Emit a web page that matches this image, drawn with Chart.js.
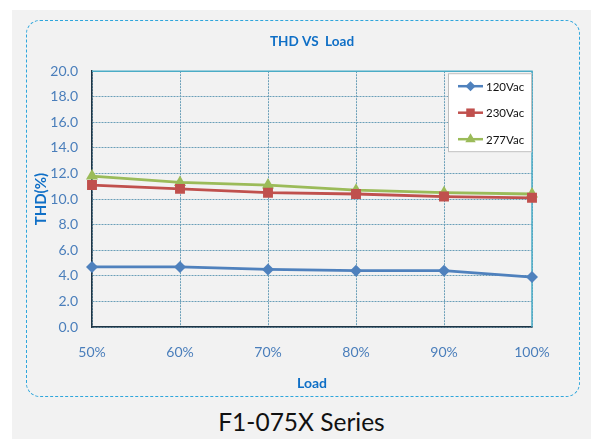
<!DOCTYPE html>
<html>
<head>
<meta charset="utf-8">
<script src="https://cdn.jsdelivr.net/npm/chart.js@4/dist/chart.umd.min.js"></script>
<style>
  html, body { margin: 0; padding: 0; background: #fff; }
  #page { position: relative; width: 591px; height: 439px; overflow: hidden; }
  #panel { position: absolute; left: 12px; top: 10px; width: 579px; height: 429px; background: #f2f2f2; }
  #frame { position: absolute; left: 26px; top: 20px; width: 552px; height: 375px;
           border: 1px dashed #2fa6dc; border-radius: 14px; }
  #series { position: absolute; left: 12px; width: 579px; top: 407px; text-align: center;
            font-family: Lato, 'Noto Sans', sans-serif; font-size: 24.5px; color: #111; }
  #wrap { position: absolute; left: 0; top: 0; width: 591px; height: 439px; }
</style>
</head>
<body>
<div id="page">
  <div id="panel"></div>
  <div id="frame"></div>
  <div id="series">F1-075X Series</div>
  <div id="wrap"><canvas id="thdChart"></canvas></div>
</div>
<script>
(function() {
    'use strict';

    var loads = ['50%', '60%', '70%', '80%', '90%', '100%'];
    var thd120 = [4.7, 4.7, 4.5, 4.4, 4.4, 3.9];
    var thd230 = [11.1, 10.8, 10.5, 10.4, 10.2, 10.1];
    var thd277 = [11.8, 11.3, 11.1, 10.7, 10.5, 10.4];
    var yTicks = [0, 2, 4, 6, 8, 10, 12, 14, 16, 18, 20];

    var tickBlue = '#4a7ebb';
    var titleBlue = '#0f6fc6';
    var font = "Lato, 'Noto Sans', sans-serif";

    // top/right plot border in light blue (Excel style)
    var plotFrame = {
        id: 'plotFrame',
        beforeDatasetsDraw: function(chart) {
            var a = chart.chartArea, ctx = chart.ctx;
            ctx.save();
            ctx.strokeStyle = '#4bacc6';
            ctx.lineWidth = 1.5;
            ctx.beginPath();
            ctx.moveTo(a.left, a.top);
            ctx.lineTo(a.right, a.top);
            ctx.lineTo(a.right, a.bottom);
            ctx.stroke();
            ctx.restore();
        }
    };

    // legend box inside the plot, top right
    var boxLegend = {
        id: 'boxLegend',
        afterDraw: function(chart) {
            var a = chart.chartArea, ctx = chart.ctx;
            var w = 84, h = 79;
            var x0 = a.right - w, y0 = a.top + 2;
            ctx.save();
            ctx.fillStyle = '#ffffff';
            ctx.fillRect(x0, y0, w, h);
            ctx.strokeStyle = '#bfbfbf';
            ctx.lineWidth = 1;
            ctx.strokeRect(x0 + 0.5, y0 + 0.5, w - 1, h - 1);
            chart.data.datasets.forEach(function(ds, i) {
                var cy = y0 + 13 + i * 26.5;
                ctx.strokeStyle = ds.borderColor;
                ctx.lineWidth = 2.5;
                ctx.beginPath();
                ctx.moveTo(x0 + 10, cy);
                ctx.lineTo(x0 + 35, cy);
                ctx.stroke();
                ctx.fillStyle = ds.borderColor;
                Chart.helpers.drawPoint(ctx, {
                    pointStyle: ds.pointStyle, radius: ds.pointRadius - 1, borderWidth: 0
                }, x0 + 22.5, cy);
                ctx.fillStyle = '#111';
                ctx.font = '11.5px ' + font;
                ctx.textBaseline = 'middle';
                ctx.fillText(ds.label, x0 + 38, cy + 1);
            });
            ctx.restore();
        }
    };

    function series(label, data, color, style, radius) {
        return {
            label: label,
            data: data,
            borderColor: color,
            backgroundColor: color,
            borderWidth: 2.8,
            pointStyle: style,
            pointRadius: radius,
            pointBorderWidth: 0,
            pointBackgroundColor: color,
            tension: 0
        };
    }

    new Chart(document.getElementById('thdChart').getContext('2d'), {
        type: 'line',
        data: {
            labels: loads,
            datasets: [
                series('120Vac', thd120, '#4f81bd', 'rectRot', 6),
                series('230Vac', thd230, '#c0504d', 'rect', 7),
                series('277Vac', thd277, '#9bbb59', 'triangle', 7)
            ]
        },
        options: {
            responsive: true,
            maintainAspectRatio: false,
            animation: false,
            layout: { padding: { left: 27, right: 59, top: 20, bottom: 42 } },
            plugins: {
                legend: { display: false },
                tooltip: { enabled: false },
                title: {
                    display: true,
                    text: 'THD VS  Load',
                    fullSize: false,
                    color: titleBlue,
                    font: { family: font, size: 13.5, weight: 'bold' },
                    padding: { top: 14, bottom: 21 }
                }
            },
            scales: {
                x: {
                    offset: false,
                    grid: { color: '#6a9fb8', drawTicks: false, lineWidth: 1 },
                    border: { color: '#1f3545', width: 1.5, dash: [2, 1] },
                    ticks: { color: tickBlue, font: { family: font, size: 14 }, padding: 17, maxRotation: 0 },
                    title: {
                        display: true, text: 'Load', color: titleBlue,
                        font: { family: font, size: 14, weight: 'bold' },
                        padding: { top: 0, bottom: 5 }
                    },
                    afterFit: function(s) { s.height = 70; }
                },
                y: {
                    min: 0,
                    max: 20,
                    afterBuildTicks: function(s) { s.ticks = yTicks.map(function(v) { return { value: v }; }); },
                    grid: { color: '#6a9fb8', drawTicks: false, lineWidth: 1 },
                    border: { color: '#1f3545', width: 1.5, dash: [2, 1] },
                    ticks: {
                        color: tickBlue, font: { family: font, size: 14 }, padding: 14,
                        callback: function(v) { return Number(v).toFixed(1); }
                    },
                    title: {
                        display: true, text: 'THD(%)', color: titleBlue,
                        font: { family: font, size: 15, weight: 'bold' },
                        padding: { top: 5, bottom: 0 }
                    },
                    afterFit: function(s) { s.width = 65; }
                }
            }
        },
        plugins: [plotFrame, boxLegend]
    });
})();
</script>
</body>
</html>
